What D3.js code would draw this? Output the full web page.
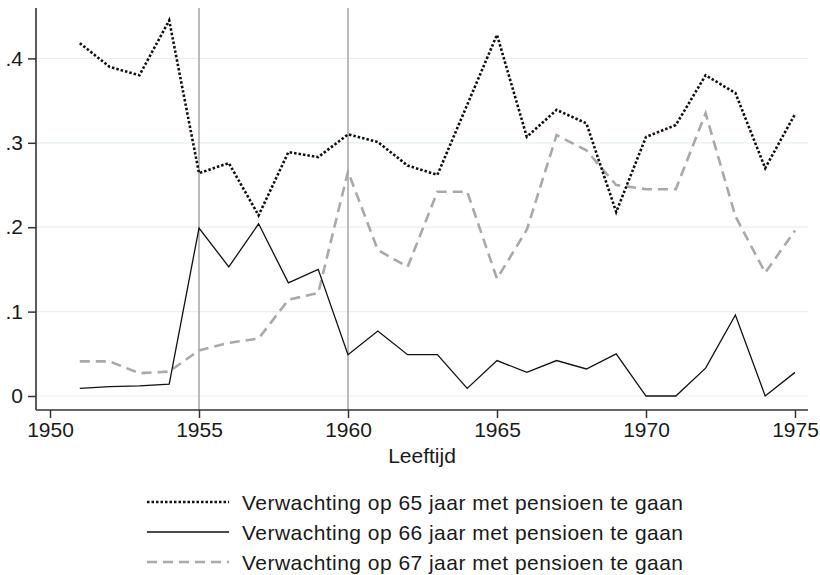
<!DOCTYPE html>
<html>
<head>
<meta charset="utf-8">
<script src="https://cdn.jsdelivr.net/npm/d3@7"></script>
<style>
  body { margin: 0; background: #fff; }
  text { font-family: "Liberation Sans", Arial, sans-serif; fill: #1a1a1a; }
</style>
</head>
<body>
<div id="chart"></div>
<script>
const years = [1951, 1952, 1953, 1954, 1955, 1956, 1957, 1958, 1959, 1960, 1961, 1962, 1963,
  1964, 1965, 1966, 1967, 1968, 1969, 1970, 1971, 1972, 1973, 1974, 1975];
const s65 = [0.418, 0.390, 0.380, 0.445, 0.264, 0.276, 0.214, 0.289, 0.283, 0.310, 0.301, 0.273, 0.262,
  0.345, 0.428, 0.307, 0.339, 0.323, 0.218, 0.307, 0.321, 0.380, 0.359, 0.270, 0.334];
const s66 = [0.009, 0.011, 0.012, 0.014, 0.199, 0.153, 0.204, 0.134, 0.150, 0.049, 0.077, 0.049, 0.049,
  0.009, 0.042, 0.028, 0.042, 0.032, 0.050, 0.000, 0.000, 0.033, 0.096, 0.000, 0.028];
const s67 = [0.041, 0.041, 0.027, 0.029, 0.054, 0.063, 0.068, 0.114, 0.122, 0.266, 0.173, 0.153, 0.242,
  0.242, 0.139, 0.197, 0.309, 0.291, 0.250, 0.245, 0.245, 0.335, 0.213, 0.146, 0.196];
const xTicks = [1950, 1955, 1960, 1965, 1970, 1975];
const yTicks = [0, 0.1, 0.2, 0.3, 0.4];
const yTickLabels = ["0", ".1", ".2", ".3", ".4"];
const refYears = [1955, 1960];
const seriesNames = [
  "Verwachting op 65 jaar met pensioen te gaan",
  "Verwachting op 66 jaar met pensioen te gaan",
  "Verwachting op 67 jaar met pensioen te gaan"
];

const svg = d3.select('#chart').append('svg')
  .attr('width', 820)
  .attr('height', 575);

const plotLeft = 36, plotRight = 808, plotTop = 8, plotBottom = 410;

const x = d3.scaleLinear().domain([1950, 1975]).range([50, 795]);
const y = d3.scaleLinear().domain([0, 0.4]).range([396, 58.4]);

// gridlines
svg.selectAll('.grid')
  .data(yTicks)
  .enter().append('line')
  .attr('x1', plotLeft).attr('x2', plotRight)
  .attr('y1', d => y(d)).attr('y2', d => y(d))
  .attr('stroke', '#e6f0f2')
  .attr('stroke-width', 1.2);

// vertical reference lines
svg.selectAll('.ref')
  .data(refYears)
  .enter().append('line')
  .attr('x1', d => x(d)).attr('x2', d => x(d))
  .attr('y1', plotTop).attr('y2', plotBottom)
  .attr('stroke', '#a6a6a6')
  .attr('stroke-width', 1.5);

// axes
const yAxis = svg.append('g')
  .attr('transform', `translate(${plotLeft},0)`)
  .call(d3.axisLeft(y).tickValues(yTicks).tickFormat((d, i) => yTickLabels[i]).tickSize(8).tickPadding(5));
yAxis.select('.domain').remove();
yAxis.append('line').attr('x1', 0).attr('x2', 0).attr('y1', plotTop).attr('y2', plotBottom)
  .attr('stroke', '#333').attr('stroke-width', 1.6);

const xAxis = svg.append('g')
  .attr('transform', `translate(0,${plotBottom})`)
  .call(d3.axisBottom(x).tickValues(xTicks).tickFormat(d3.format('d')).tickSize(8).tickPadding(4));
xAxis.select('.domain').remove();
xAxis.append('line').attr('x1', plotLeft).attr('x2', plotRight).attr('y1', 0).attr('y2', 0)
  .attr('stroke', '#333').attr('stroke-width', 1.6);

svg.selectAll('.tick line').attr('stroke', '#333').attr('stroke-width', 1.5);
svg.selectAll('.tick text')
  .attr('font-size', '21px')
  .attr('font-family', '"Liberation Sans", Arial, sans-serif')
  .attr('fill', '#1a1a1a');

// x axis title
svg.append('text')
  .attr('x', (plotLeft + plotRight) / 2)
  .attr('y', 463)
  .attr('text-anchor', 'middle')
  .attr('font-size', '21px')
  .text('Leeftijd');

// series
const line = d3.line().x((d, i) => x(years[i])).y(d => y(d));
const styles = [
  { data: s65, color: '#111', width: 2.6, dash: '2.5,2' },
  { data: s66, color: '#111', width: 1.3, dash: null },
  { data: s67, color: '#a9a9a9', width: 2.6, dash: '10,6' }
];

styles.slice().reverse().forEach(s => {
  svg.append('path')
    .datum(s.data)
    .attr('d', line)
    .attr('fill', 'none')
    .attr('stroke', s.color)
    .attr('stroke-width', s.width)
    .attr('stroke-dasharray', s.dash);
});

// legend
const legendY = [502, 532, 562];
styles.forEach((s, i) => {
  svg.append('line')
    .attr('x1', 147).attr('x2', 229)
    .attr('y1', legendY[i]).attr('y2', legendY[i])
    .attr('stroke', s.color)
    .attr('stroke-width', s.width)
    .attr('stroke-dasharray', s.dash);
  svg.append('text')
    .attr('x', 242)
    .attr('y', legendY[i])
    .attr('dy', '0.36em')
    .attr('font-size', '21px')
    .attr('textLength', 441)
    .text(seriesNames[i]);
});
</script>
</body>
</html>
